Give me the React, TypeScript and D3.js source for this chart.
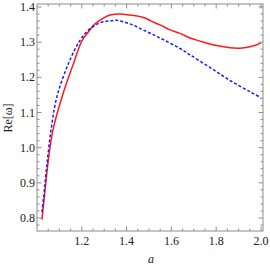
import * as d3 from "d3";

const aRed = [1.022, 1.033, 1.049, 1.071, 1.112, 1.164, 1.2, 1.237, 1.259, 1.3, 1.326, 1.37, 1.415, 1.44, 1.475, 1.51, 1.549, 1.594, 1.638, 1.683, 1.728, 1.772, 1.817, 1.862, 1.906, 1.951, 1.975, 2.0];
const reRed = [0.795, 0.861, 0.956, 1.05, 1.145, 1.241, 1.303, 1.335, 1.352, 1.37, 1.377, 1.38, 1.377, 1.375, 1.37, 1.36, 1.349, 1.335, 1.325, 1.312, 1.303, 1.295, 1.289, 1.284, 1.283, 1.287, 1.291, 1.298];

const aBlue = [1.022, 1.03, 1.045, 1.0625, 1.089, 1.1415, 1.19, 1.231, 1.281, 1.32, 1.356, 1.415, 1.49, 1.564, 1.638, 1.683, 1.772, 1.862, 1.951, 2.0];
const reBlue = [0.817, 0.861, 0.956, 1.05, 1.145, 1.241, 1.303, 1.335, 1.355, 1.36, 1.362, 1.352, 1.33, 1.307, 1.282, 1.264, 1.228, 1.191, 1.159, 1.142];

const xMajor = [1.2, 1.4, 1.6, 1.8, 2.0];
const yMajor = [0.8, 0.9, 1.0, 1.1, 1.2, 1.3, 1.4];

const W = 270;
const H = 267;
const left = 37;
const right = 263;
const top = 4;
const bottom = 231;

export default function App() {
  const x = d3.scaleLinear().domain([1.0, 2.0]).range([left, 261]);
  const y = d3.scaleLinear().domain([0.8, 1.4]).range([218, 7]);

  const xMinor = d3.range(1.0, 2.02, 0.05).filter((v) => x(v) > left + 0.5 && x(v) < right - 0.5);
  const yMinor = d3.range(0.76, 1.42, 0.02).filter((v) => y(v) > top + 0.5 && y(v) < bottom - 0.5);
  const isMajorX = (v: number) => Math.abs(v * 5 - Math.round(v * 5)) < 1e-6;
  const isMajorY = (v: number) => Math.abs(v * 10 - Math.round(v * 10)) < 1e-6;

  const line = d3
    .line<[number, number]>()
    .x((d) => x(d[0]))
    .y((d) => y(d[1]))
    .curve(d3.curveCatmullRom.alpha(0.5));

  const red = line(aRed.map((a, i) => [a, reRed[i]]) as [number, number][]) ?? "";
  const blue = line(aBlue.map((a, i) => [a, reBlue[i]]) as [number, number][]) ?? "";

  const frame = "#8c8c8c";
  const font = "Liberation Serif";

  return (
    <svg width={W} height={H} style={{ position: "absolute", left: 0, top: 0, background: "#fff" }}>
      <defs>
        <clipPath id="plot">
          <rect x={left} y={top} width={right - left} height={bottom - top} />
        </clipPath>
      </defs>

      <g clipPath="url(#plot)">
        <path d={red} fill="none" stroke="#ff1a1a" strokeWidth={1.5} />
        <path d={blue} fill="none" stroke="#1a1aff" strokeWidth={1.5} strokeDasharray="3 2" />
      </g>

      <rect x={left} y={top} width={right - left} height={bottom - top} fill="none" stroke={frame} strokeWidth={1} />

      {xMinor.map((v) => {
        const len = isMajorX(v) ? 4.5 : 2.5;
        const px = x(v);
        return (
          <g key={`x${v.toFixed(2)}`} stroke={frame}>
            <line x1={px} x2={px} y1={bottom} y2={bottom - len} />
            <line x1={px} x2={px} y1={top} y2={top + len} />
          </g>
        );
      })}
      {yMinor.map((v) => {
        const len = isMajorY(v) ? 4.5 : 2.5;
        const py = y(v);
        return (
          <g key={`y${v.toFixed(2)}`} stroke={frame}>
            <line x1={left} x2={left + len} y1={py} y2={py} />
            <line x1={right} x2={right - len} y1={py} y2={py} />
          </g>
        );
      })}

      {xMajor.map((v) => (
        <text key={`xl${v}`} x={x(v)} y={245} textAnchor="middle" fontFamily={font} fontSize={12} fill="#222">
          {v.toFixed(1)}
        </text>
      ))}
      {yMajor.map((v) => (
        <text key={`yl${v}`} x={35} y={y(v) + 4} textAnchor="end" fontFamily={font} fontSize={12} fill="#222">
          {v.toFixed(1)}
        </text>
      ))}

      <text x={151} y={263} textAnchor="middle" fontFamily={font} fontSize={12} fontStyle="italic" fill="#222">
        a
      </text>
      <text
        transform={`translate(12, 118) rotate(-90)`}
        textAnchor="middle"
        fontFamily={font}
        fontSize={12}
        fill="#222"
      >
        Re[ω]
      </text>
    </svg>
  );
}
